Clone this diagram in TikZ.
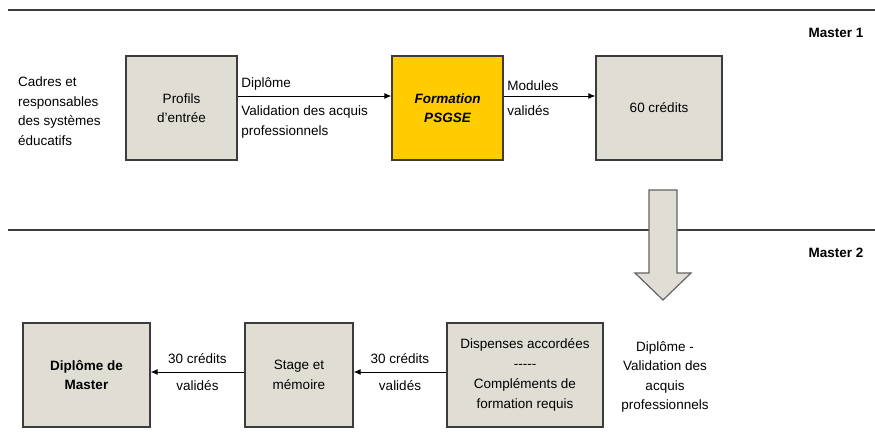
\documentclass[tikz,border=0pt]{standalone}
\usepackage{fontspec}
\setmainfont{Liberation Sans}
\usetikzlibrary{arrows.meta}
\definecolor{gris}{RGB}{224,221,212}
\definecolor{jaune}{RGB}{255,204,0}
\definecolor{trait}{RGB}{60,60,60}

\begin{document}
\begin{tikzpicture}[x=1pt,y=-1pt,
    font=\fontsize{13.5}{19.5}\selectfont,
    etape/.style={draw=trait,line width=1.3pt,fill=gris,minimum height=104pt,align=center,inner sep=0pt},
    fleche/.style={line width=0.9pt,-{Latex[length=7pt,width=6pt]}}]
  \useasboundingbox (0,0) rectangle (875,436);

  % Separation lines between the two years
  \draw[trait,line width=1.6pt] (8,10) -- (875,10);
  \draw[trait,line width=1.6pt] (8,230) -- (875,230);
  \node[anchor=east,font=\fontsize{13.5}{15}\bfseries] (m1) at (867,33) {Master 1};
  \node[anchor=east,font=\fontsize{13.5}{15}\bfseries] (m2) at (867,253) {Master 2};

  % Master 1 row
  \node[anchor=west,align=left,inner sep=0pt] (public) at (18,111) {Cadres et\\responsables\\des syst\`emes\\\'educatifs};
  \node[etape,minimum width=111pt] (profils) at (181.5,108) {Profils\\d'entr\'ee};
  \node[etape,minimum width=111pt,fill=jaune] (formation) at (447.5,108)
    {\bfseries\itshape Formation\\\bfseries\itshape PSGSE};
  \node[etape,minimum width=126pt] (credits) at (659,108) {60 cr\'edits};

  \draw[fleche] ([yshift=12pt]profils.east) -- ([yshift=12pt]formation.west)
    node[pos=0,above right,yshift=2pt] (dipl) {Dipl\^ome}
    node[pos=0,below right,align=left,yshift=-6pt] (vap) {Validation des acquis\\professionnels};
  \draw[fleche] ([yshift=12pt]formation.east) -- ([yshift=12pt]credits.west)
    node[pos=0,above right,yshift=2pt] (mod) {Modules}
    node[pos=0,below right,yshift=-6pt] (valm) {valid\'es};

  % Big arrow going down to Master 2
  \draw[trait!80,line width=1.2pt,fill=gris,line join=miter]
    (649,190) -- (677,190) -- (677,273) -- (691,273) -- (663,300)
    -- (635,273) -- (649,273) -- cycle;

  % Master 2 row
  \node[etape,minimum width=127pt] (master) at (86.5,375) {\bfseries Dipl\^ome de\\\bfseries Master};
  \node[etape,minimum width=108pt] (stage) at (299,375) {Stage et\\m\'emoire};
  \node[etape,minimum width=156pt,font=\fontsize{13.5}{20}\selectfont] (dispenses) at (525,375)
    {Dispenses accord\'ees\\-{}-{}-{}-{}-\\Compl\'ements de\\formation requis};
  \node[align=center,inner sep=0pt] (vap2) at (665,377) {Dipl\^ome -\\Validation des\\acquis\\professionnels};

  \draw[fleche] ([yshift=3pt]dispenses.west) -- ([yshift=3pt]stage.east)
    node[midway,above,yshift=5pt] (c30b) {30 cr\'edits}
    node[midway,below,yshift=-5pt] (vb) {valid\'es};
  \draw[fleche] ([yshift=3pt]stage.west) -- ([yshift=3pt]master.east)
    node[midway,above,yshift=5pt] (c30a) {30 cr\'edits}
    node[midway,below,yshift=-5pt] (va) {valid\'es};
\end{tikzpicture}
\end{document}
